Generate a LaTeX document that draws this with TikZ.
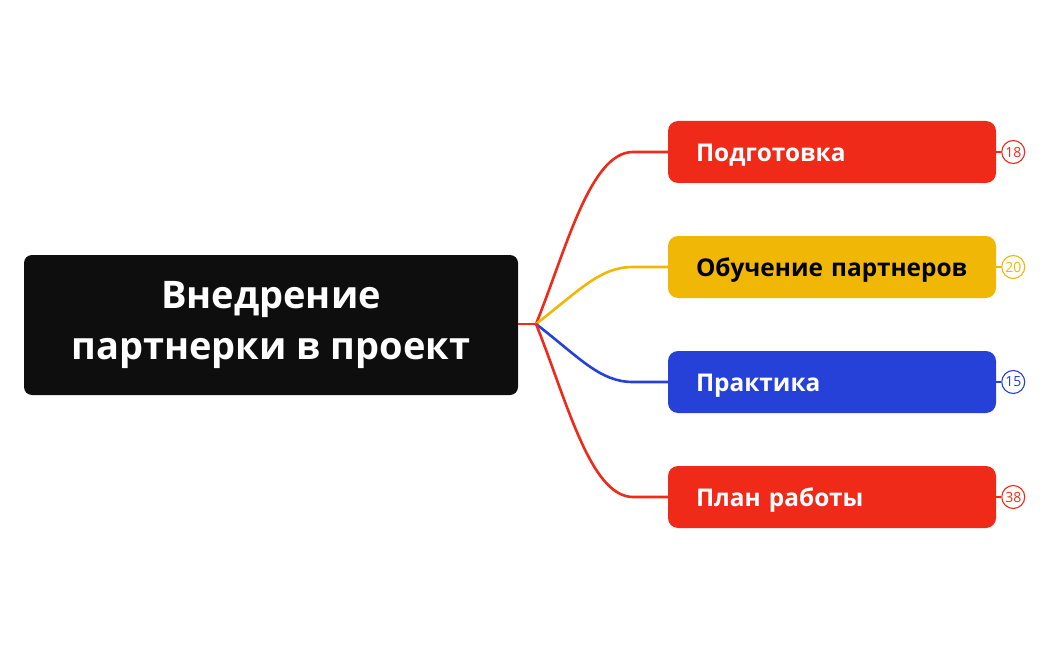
\documentclass[tikz,border=0pt]{standalone}
\usepackage{fontspec}
\setmainfont{Open Sans}
\usepackage{tikz}
\usetikzlibrary{positioning,calc}
\definecolor{mmred}{HTML}{F02A18}
\definecolor{mmyellow}{HTML}{F0B707}
\definecolor{mmblue}{HTML}{2541D8}
\definecolor{mmblack}{HTML}{0E0E0E}
\tikzset{
  rootbox/.style={fill=mmblack, text=white, rounded corners=8pt, minimum width=494pt, minimum height=140pt, align=center, font=\fontsize{38}{51}\selectfont\bfseries},
  topicbox/.style={rounded corners=10pt, minimum width=328pt, minimum height=62pt, inner xsep=0pt, text width=310pt, text height=18pt, text depth=0pt, align=left, execute at begin node=\hspace*{19pt}, font=\fontsize{24.4}{28}\selectfont\bfseries},
  badge/.style={circle, draw=#1, line width=1.1pt, fill=white, text=#1, minimum size=23pt, inner sep=0pt, font=\fontsize{14}{14}\selectfont},
  branch/.style={line width=2.6pt, draw=#1},
}
\begin{document}
\begin{tikzpicture}[x=1pt,y=-1pt]
            \useasboundingbox (0,0) rectangle (1050,650);
            \node[rootbox] at (271,325) (root) {Внедрение\\партнерки в проект};
            \coordinate (hub) at (536,324);
            \node[topicbox, fill=mmred, text=white] at (832,152) (t1) {Подготовка};
            \node[topicbox, fill=mmyellow, text=black] at (832,267) (t2) {Обучение партнеров};
            \node[topicbox, fill=mmblue, text=white] at (832,382) (t3) {Практика};
            \node[topicbox, fill=mmred, text=white] at (832,497) (t4) {План работы};
            \node[badge=mmred, right=5pt of t1] (b1) {18};
            \node[badge=mmyellow, right=5pt of t2] (b2) {20};
            \node[badge=mmblue, right=5pt of t3] (b3) {15};
            \node[badge=mmred, right=5pt of t4] (b4) {38};
            \draw[branch=mmred] (root.east |- hub) -- (hub);
            \draw[branch=mmred] (hub) .. controls (566,250) and (590,152) .. (633,152) -- (t1.west);
            \draw[branch=mmyellow] (hub) .. controls (580,290) and (600,267) .. (633,267) -- (t2.west);
            \draw[branch=mmblue] (hub) .. controls (580,358) and (600,382) .. (633,382) -- (t3.west);
            \draw[branch=mmred] (hub) .. controls (566,398) and (590,497) .. (633,497) -- (t4.west);
            \draw[mmred, line width=1.1pt] (t1.east) -- (b1);
            \draw[mmyellow, line width=1.1pt] (t2.east) -- (b2);
            \draw[mmblue, line width=1.1pt] (t3.east) -- (b3);
            \draw[mmred, line width=1.1pt] (t4.east) -- (b4);
          \end{tikzpicture}
\end{document}
